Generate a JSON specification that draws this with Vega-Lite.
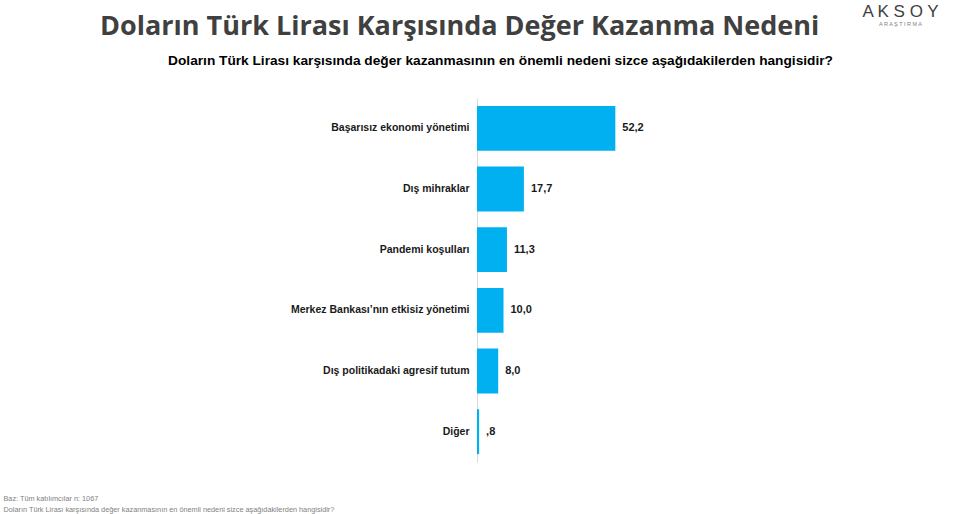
{
  "$schema": "https://vega.github.io/schema/vega-lite/v6.json",
  "width": 265,
  "height": 364,
  "autosize": {"type": "none"},
  "padding": {"left": 477, "top": 98, "right": 211, "bottom": 52},
  "background": "white",
  "title": {
    "text": "Doların Türk Lirası Karşısında Değer Kazanma Nedeni",
    "anchor": "start",
    "frame": "group",
    "dx": -377,
    "dy": 52,
    "offset": 13,
    "font": "Open Sans",
    "fontSize": 27,
    "fontWeight": "bold",
    "color": "#404040"
  },
  "config": {"view": {"stroke": null}},
  "data": {
    "values": [
      {"neden": "Başarısız ekonomi yönetimi", "deger": 52.2, "etiket": "52,2"},
      {"neden": "Dış mihraklar", "deger": 17.7, "etiket": "17,7"},
      {"neden": "Pandemi koşulları", "deger": 11.3, "etiket": "11,3"},
      {"neden": "Merkez Bankası’nın etkisiz yönetimi", "deger": 10.0, "etiket": "10,0"},
      {"neden": "Dış politikadaki agresif tutum", "deger": 8.0, "etiket": "8,0"},
      {"neden": "Diğer", "deger": 0.8, "etiket": ",8"}
    ]
  },
  "layer": [
    {
      "mark": {"type": "bar", "color": "#00B0F0"},
      "encoding": {
        "y": {
          "field": "neden",
          "type": "nominal",
          "sort": null,
          "scale": {"paddingInner": 0.26, "paddingOuter": 0.13},
          "axis": {
            "orient": "left",
            "title": null,
            "ticks": false,
            "domainColor": "#d9d9d9",
            "domainWidth": 1,
            "labelFont": "Liberation Sans",
            "labelFontSize": 10.5,
            "labelFontWeight": "bold",
            "labelColor": "#1a1a1a",
            "labelPadding": 8,
            "labelLimit": 400
          }
        },
        "x": {
          "field": "deger",
          "type": "quantitative",
          "scale": {"domain": [0, 100]},
          "axis": {
            "orient": "bottom",
            "labels": false,
            "ticks": false,
            "domain": false,
            "grid": false,
            "title": ["Baz: Tüm katılımcılar n: 1067", "Doların Türk Lirası karşısında değer kazanmasının en önemli nedeni sizce aşağıdakilerden hangisidir?"],
            "titleX": -474,
            "titleY": 38,
            "titleAlign": "left",
            "titleAnchor": "start",
            "titleBaseline": "alphabetic",
            "titleFont": "Liberation Sans",
            "titleFontSize": 7.3,
            "titleFontWeight": "normal",
            "titleColor": "#7f7f7f",
            "titleLineHeight": 11
          }
        }
      }
    },
    {
      "mark": {"type": "text", "align": "left", "baseline": "middle", "dx": 7, "font": "Liberation Sans", "fontSize": 11, "fontWeight": "bold", "color": "#1a1a1a"},
      "encoding": {
        "y": {
          "field": "neden",
          "type": "nominal",
          "sort": null,
          "axis": {
            "orient": "right",
            "labels": false,
            "ticks": false,
            "domain": false,
            "grid": false,
            "title": "A K S O Y",
            "titleAngle": 0,
            "titleX": 158,
            "titleY": -82,
            "titleAlign": "center",
            "titleBaseline": "alphabetic",
            "titleFont": "Liberation Sans",
            "titleFontSize": 17,
            "titleFontWeight": "normal",
            "titleColor": "#404040"
          }
        },
        "x": {
          "field": "deger",
          "type": "quantitative",
          "axis": {
            "orient": "top",
            "labels": false,
            "ticks": false,
            "domain": false,
            "grid": false,
            "title": "Doların Türk Lirası karşısında değer kazanmasının en önemli nedeni sizce aşağıdakilerden hangisidir?",
            "titleX": 23,
            "titleY": -34,
            "titleAlign": "center",
            "titleBaseline": "alphabetic",
            "titleFont": "Liberation Sans",
            "titleFontSize": 13.7,
            "titleFontWeight": "bold",
            "titleColor": "#000000"
          }
        },
        "text": {"field": "etiket"}
      }
    },
    {
      "mark": {"type": "text"},
      "encoding": {
        "y": {
          "field": "neden",
          "type": "nominal",
          "sort": null,
          "axis": {
            "orient": "right",
            "labels": false,
            "ticks": false,
            "domain": false,
            "grid": false,
            "title": "A R A Ş T I R M A",
            "titleAngle": 0,
            "titleX": 158,
            "titleY": -73,
            "titleAlign": "center",
            "titleBaseline": "alphabetic",
            "titleFont": "Liberation Sans",
            "titleFontSize": 5.5,
            "titleFontWeight": "normal",
            "titleColor": "#808080"
          }
        },
        "text": {"value": ""}
      }
    }
  ],
  "resolve": {"axis": {"x": "independent", "y": "independent"}}
}
